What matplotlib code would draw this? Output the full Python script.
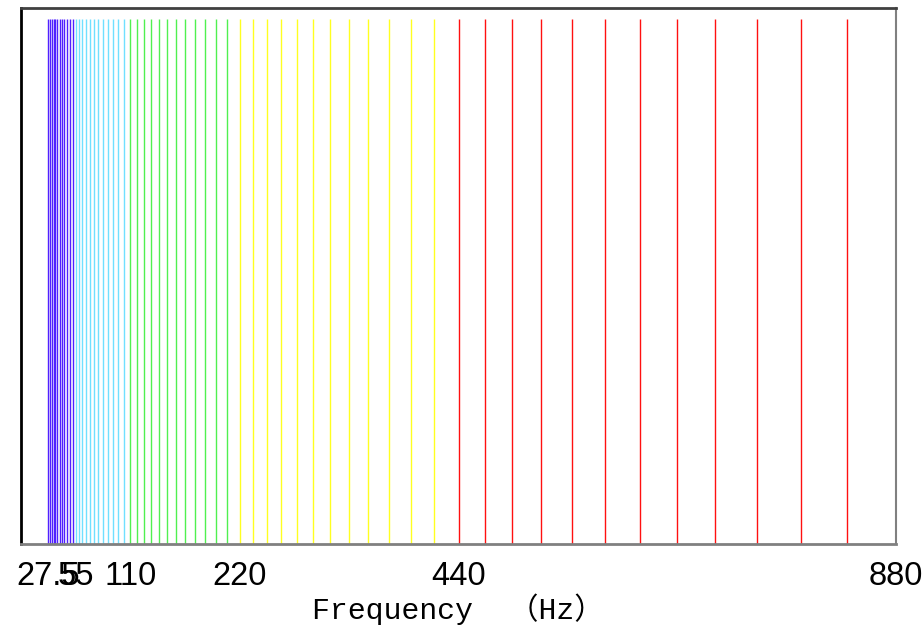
import matplotlib
matplotlib.use("Agg")
import matplotlib.pyplot as plt

# Data: piano key frequencies A0 .. A5, grouped by octave
octave_starts = [27.5, 55.0, 110.0, 220.0, 440.0]
octave_colors = ["#5020ff", "#70e0ff", "#50f050", "#ffff20", "#ff1010"]
semitones_per_octave = 12
top_frequency = 880.0
tick_values = [27.5, 55, 110, 220, 440, 880]
tick_labels = ["27.5", "55", "110", "220", "440", "880"]
x_label = "Frequency  \uff08Hz\uff09"

freqs = []
colors = []
for base, col in zip(octave_starts, octave_colors):
    for k in range(semitones_per_octave):
        freqs.append(base * 2 ** (k / semitones_per_octave))
        colors.append(col)
freqs.append(top_frequency)
colors.append(octave_colors[-1])

fig = plt.figure(figsize=(9.24, 6.3), dpi=100)
ax = fig.add_axes([21 / 924, 1 - 544 / 630, 875 / 924, 536 / 630])

ax.vlines(freqs, 0, 1, colors=colors, linewidth=1.0)

ax.set_xlim(0, 880)
ax.set_ylim(0, 1.02)
ax.set_yticks([])
ax.set_xticks(tick_values)

ax.set_xticklabels(tick_labels, fontsize=23.5, family=["Liberation Sans", "DejaVu Sans"])
ax.tick_params(axis="x", length=0, pad=12)

ax.set_xlabel(x_label, fontsize=21.5, family=["Liberation Mono", "Noto Sans CJK SC"], labelpad=1)

ax.spines["left"].set_color("black")
ax.spines["left"].set_linewidth(2)
ax.spines["bottom"].set_color("#808080")
ax.spines["bottom"].set_linewidth(2)
ax.spines["top"].set_color("#404040")
ax.spines["top"].set_linewidth(2)
ax.spines["right"].set_color("#808080")
ax.spines["right"].set_linewidth(1.5)

fig.savefig("out.png", dpi=100)
